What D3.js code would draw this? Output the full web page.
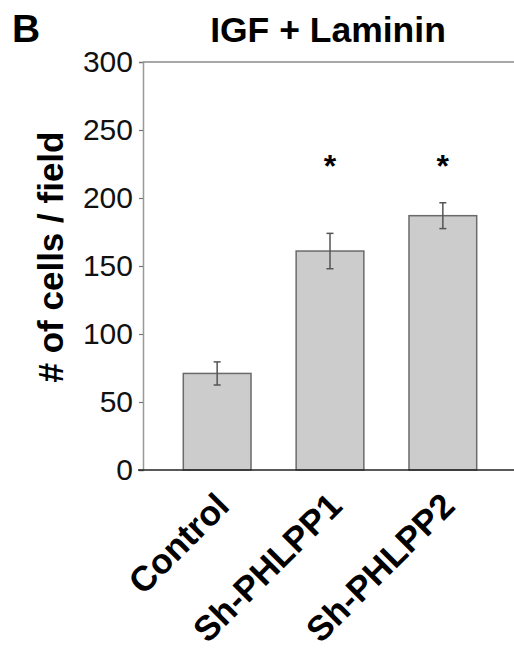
<!DOCTYPE html>
<html><head><meta charset="utf-8">
<script src="https://cdn.jsdelivr.net/npm/d3@7"></script>
<style>body{margin:0;background:#fff;} text{font-family:"Liberation Sans",Arial,sans-serif;}</style>
</head><body>
<svg id="c" width="514" height="651"></svg>
<script>
const categories = ["Control", "Sh-PHLPP1", "Sh-PHLPP2"];
const values = [71, 161, 187];
const errors = [8.5, 13, 9.5];
const significance = ["", "*", "*"];
const yTicks = [0, 50, 100, 150, 200, 250, 300];
const title = "IGF + Laminin";
const yLabel = "# of cells / field";
const panel = "B";

const svg = d3.select("#c");
const y = d3.scaleLinear().domain([0, 300]).range([470, 62]);
const x = d3.scaleBand().domain(categories).range([183.3, 476.7]).paddingInner(0.4).paddingOuter(0);
const axisX = 143;

// frame top line
svg.append("line").attr("x1", axisX).attr("x2", 514).attr("y1", y(300)).attr("y2", y(300))
  .attr("stroke", "#8a8a8a").attr("stroke-width", 1.5);

// y axis
const ya = svg.append("g").attr("transform", `translate(${axisX},0)`)
  .call(d3.axisLeft(y).tickValues(yTicks).tickSize(4).tickPadding(6));
ya.select(".domain").attr("stroke", "#999").attr("stroke-width", 1.5);
ya.selectAll(".tick line").attr("stroke", "#777").attr("stroke-width", 1.2);
ya.selectAll(".tick text").attr("font-size", 30).attr("fill", "#111")
  .attr("font-family", "Liberation Sans, Arial, sans-serif");

// bars
svg.selectAll("rect.bar").data(categories).enter().append("rect")
  .attr("class", "bar")
  .attr("x", d => x(d)).attr("width", x.bandwidth())
  .attr("y", (d, i) => y(values[i])).attr("height", (d, i) => y(0) - y(values[i]))
  .attr("fill", "#cccccc").attr("stroke", "#6a6a6a").attr("stroke-width", 1.5);

// error bars
const eg = svg.selectAll("g.err").data(categories).enter().append("g").attr("class", "err");
eg.append("line")
  .attr("x1", d => x(d) + x.bandwidth() / 2).attr("x2", d => x(d) + x.bandwidth() / 2)
  .attr("y1", (d, i) => y(values[i] + errors[i])).attr("y2", (d, i) => y(values[i] - errors[i]))
  .attr("stroke", "#555").attr("stroke-width", 1.5);
[1, -1].forEach(s => {
  eg.append("line")
    .attr("x1", d => x(d) + x.bandwidth() / 2 - 3.5).attr("x2", d => x(d) + x.bandwidth() / 2 + 3.5)
    .attr("y1", (d, i) => y(values[i] + s * errors[i])).attr("y2", (d, i) => y(values[i] + s * errors[i]))
    .attr("stroke", "#555").attr("stroke-width", 1.5);
});

// significance
svg.selectAll("text.sig").data(categories).enter().append("text")
  .attr("class", "sig")
  .attr("x", d => x(d) + x.bandwidth() / 2).attr("y", 177)
  .attr("text-anchor", "middle").attr("font-size", 32).attr("font-weight", "bold")
  .text((d, i) => significance[i]);

// bottom axis
svg.append("line").attr("x1", 138).attr("x2", 514).attr("y1", y(0)).attr("y2", y(0))
  .attr("stroke", "#222").attr("stroke-width", 1.5);

// x labels
svg.selectAll("text.xl").data(categories).enter().append("text")
  .attr("class", "xl")
  .attr("transform", d => `translate(${x(d) + x.bandwidth() / 2 + 14},${y(0) + 38}) rotate(-45)`)
  .attr("text-anchor", "end").attr("font-size", 35).attr("font-weight", "bold")
  .text(d => d);

// title
svg.append("text").attr("x", 328).attr("y", 42).attr("text-anchor", "middle")
  .attr("font-size", 35.5).attr("font-weight", "bold").text(title);
svg.append("text").attr("x", 12).attr("y", 42)
  .attr("font-size", 39).attr("font-weight", "bold").text(panel);

// y label
svg.append("text").attr("transform", "translate(63,257) rotate(-90)")
  .attr("text-anchor", "middle").attr("font-size", 35).attr("font-weight", "bold").text(yLabel);
</script>
</body></html>
